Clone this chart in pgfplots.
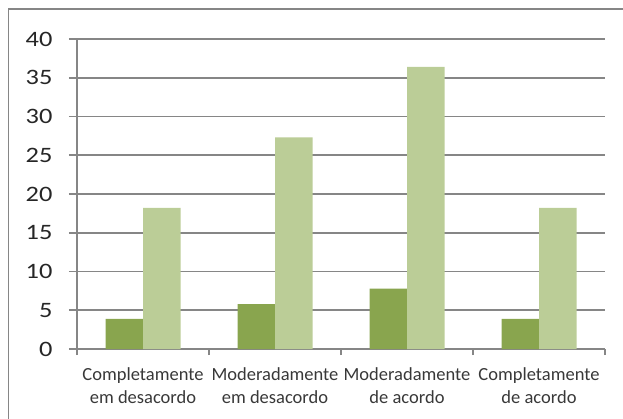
\documentclass[border=0pt]{standalone}
\usepackage{pgfplots}
\usepackage{graphicx}
\pgfplotsset{compat=1.18}
\usepackage{fontspec}
\setmainfont{Carlito}
\definecolor{darkg}{HTML}{89A54E}
\definecolor{lightg}{HTML}{BBCD97}
\definecolor{gridg}{HTML}{868686}
\begin{document}
\begin{tikzpicture}[x=1pt,y=1pt]
\useasboundingbox (0,0) rectangle (623,418);
\draw[gridg, line width=1.6pt] (8.3,-20) -- (8.3,408.7) -- (650,408.7);
\begin{axis}[
  at={(77pt,69pt)}, anchor=south west,
  scale only axis, width=528pt, height=310pt,
  xmin=-0.5, xmax=3.5, ymin=0, ymax=40,
  axis lines=left, axis line style={-, gridg, line width=1.6pt},
  ytick={0,5,...,40},
  ymajorgrids, grid style={gridg, line width=1.6pt},
  tick align=outside,
  major tick length=8pt, minor tick length=6pt,
  tick style={gridg, line width=1.6pt},
  xtick={0,1,2,3},
  xticklabels={{Completamente\\em desacordo},{Moderadamente\\em desacordo},{Moderadamente\\de acordo},{Completamente\\de acordo}},
  minor xtick={-0.5,0.5,1.5,2.5,3.5},
  xtick style={draw=none},
  minor x tick style={gridg, line width=1.6pt, draw=gridg},
  xticklabel style={align=center, font=\fontsize{18.5}{23}\selectfont, text=black!78, yshift=-7pt},
  yticklabel style={font=\fontsize{22}{26}\selectfont, text=black!85, xshift=-13pt},
  /pgf/number format/assume math mode=true,
  yticklabel={\scalebox{1.2}[1]{\pgfmathprintnumber{\tick}}},
  ybar, bar width=37.5pt,
  clip=false,
]
\addplot[draw=none, fill=darkg, bar shift=-18.75pt] coordinates {(0,3.9) (1,5.8) (2,7.8) (3,3.9)};
\addplot[draw=none, fill=lightg, bar shift=18.75pt] coordinates {(0,18.2) (1,27.3) (2,36.4) (3,18.2)};
\end{axis}
\end{tikzpicture}
\end{document}
